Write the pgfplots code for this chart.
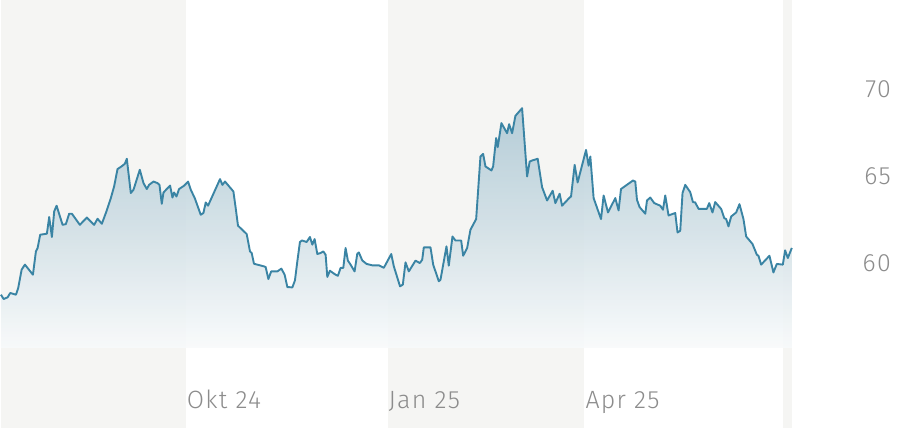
\documentclass[border=0pt]{standalone}
\usepackage{fontspec}
\setmainfont{Fira Sans Light}[LetterSpace=5]
\usepackage{pgfplots}
\usepackage{pgfplotstable}
\pgfplotsset{compat=1.18}
\definecolor{band}{HTML}{F5F5F3}
\definecolor{linec}{HTML}{3A84A4}
\definecolor{lab}{HTML}{8C8C8C}
\definecolor{ftop}{HTML}{B0CAD6}
\definecolor{fmid}{HTML}{D2E0E6}
\definecolor{fbot}{HTML}{F8FAFB}
\pgfplotstableread{
x y
0 58.16
2.7 57.91
6.7 58.01
9.3 58.26
12.7 58.20
15 58.16
17.3 58.55
20.7 59.60
24 59.89
32 59.31
35 60.65
36.7 60.85
39.3 61.61
46 61.67
48.3 62.63
51 61.48
53.3 62.95
55.7 63.28
61.7 62.18
65 62.22
68.3 62.82
71 62.82
79 62.18
86 62.60
93.3 62.18
96.7 62.53
101 62.24
105 62.86
110 63.72
113.3 64.39
116.7 65.39
120.7 65.54
124 65.69
126 65.98
130 64.01
132.7 64.20
139 65.35
142.7 64.58
146 64.24
148.3 64.48
152.7 64.67
156.7 64.58
158.7 64.48
161 63.39
162.7 64.04
169.3 64.44
171.7 63.75
173.3 64.04
175.7 63.81
178.3 64.24
183.3 64.43
187.3 64.67
190 64.20
194 63.72
200 62.76
202.7 62.86
205 63.47
207.3 63.28
219.3 64.81
221.7 64.48
224.3 64.67
232.7 64.10
235 63.14
237.3 62.13
246 61.65
249.3 60.65
251 60.56
253.3 59.94
263.3 59.79
265 59.75
267.7 59.06
270.5 59.50
276.7 59.50
280.7 59.66
284 59.31
286.7 58.60
291.7 58.58
294.3 58.98
296.7 60.08
299.3 61.19
301.3 61.28
306 61.19
309.3 61.48
311.7 61.04
314 61.36
316.7 60.50
320 60.56
322.7 60.65
325 60.46
326.7 59.18
329.3 59.54
331.7 59.44
335 59.31
337.3 59.25
340 59.70
342.7 59.70
345 60.85
347.3 60.12
350 59.89
354 59.50
356.7 60.52
358.3 60.59
361.7 60.13
366 59.93
371.7 59.85
378.3 59.85
383.3 59.71
390.7 60.50
393.3 59.79
399.5 58.64
402.3 58.74
405 60.02
408.3 59.50
415 60.12
419.3 59.98
421.7 60.17
423.3 60.88
430 60.88
432.7 59.89
438.3 58.93
440 59.02
446 60.94
448.3 59.83
452 61.51
455 61.28
460.7 61.28
462.7 60.40
466.7 60.85
470 61.90
475.7 62.51
480 66.11
482.7 66.26
485 65.54
491 65.31
492.7 65.54
495.7 67.17
497.3 66.65
501 68.03
506.7 67.45
508.7 67.97
511.7 67.45
515 68.45
521.7 68.89
526.7 64.96
529.3 65.82
531.7 65.88
537.3 65.98
541.7 64.35
546.7 63.58
552.3 64.14
555 63.43
559.3 63.97
561.7 63.28
569.3 63.75
570.7 63.81
574.3 65.63
577.3 64.62
585.7 66.49
588.3 65.58
590 66.11
593.3 63.72
600.7 62.51
603.3 63.87
607.7 62.89
615 63.72
618.3 63.01
620.7 64.24
632.7 64.73
635 64.67
636.7 63.62
639.3 63.20
645 62.82
646.7 63.58
650 63.75
654 63.43
660 63.28
662.7 63.05
665 63.87
668.3 62.72
675 62.86
677.3 61.74
680 61.84
682.3 64.01
685 64.48
690 64.06
692.7 63.49
695 63.47
698.3 63.10
706.7 63.10
709 63.43
712.3 62.89
715 63.49
721 63.09
724 62.57
726 62.51
728.3 62.09
731 62.66
736 62.89
739.3 63.37
743.3 62.51
746 61.51
752.3 61.08
756.7 60.46
758.3 60.40
761 59.89
769.3 60.40
773.3 59.44
776.7 59.93
782.7 59.89
785 60.71
787.7 60.27
791.7 60.85
}\prices
\begin{document}
\begin{tikzpicture}
\begin{axis}[
  width=902pt, height=428pt, scale only axis,
  xmin=0, xmax=902, ymin=50.517, ymax=75.115,
  axis line style={draw=none},
  clip=false,
  ytick={60,65,70},
  xtick=\empty,
  yticklabel pos=right,
  major tick length=0pt,
  tick style={draw=none},
  /pgf/number format/assume math mode=true,
  yticklabel style={anchor=east, inner sep=0pt, xshift=-11pt, font=\fontsize{25}{29}\selectfont, text=lab},
]
\path (rel axis cs:0,0) rectangle (rel axis cs:1,1);
\fill[band] (axis cs:0,50.517) rectangle (axis cs:185,75.115);
\fill[band] (axis cs:387,50.517) rectangle (axis cs:584,75.115);
\fill[band] (axis cs:783,50.517) rectangle (axis cs:792,75.115);
\addplot[draw=none, fill opacity=0.92, top color=ftop, bottom color=fbot, middle color=fmid] table[x=x,y=y] {\prices} -- (axis cs:791.7,55.1) -- (axis cs:0,55.1) -- cycle;
\addplot[linec, line width=1.9pt, line join=round, mark=none] table[x=x,y=y] {\prices};
\node[anchor=base west, inner sep=0pt, text=lab, font=\fontsize{25}{29}\selectfont] at (axis cs:186,51.6) {Okt 24};
\node[anchor=base west, inner sep=0pt, text=lab, font=\fontsize{25}{29}\selectfont] at (axis cs:388,51.6) {Jan 25};
\node[anchor=base west, inner sep=0pt, text=lab, font=\fontsize{25}{29}\selectfont] at (axis cs:585,51.6) {Apr 25};
\end{axis}
\end{tikzpicture}
\end{document}
